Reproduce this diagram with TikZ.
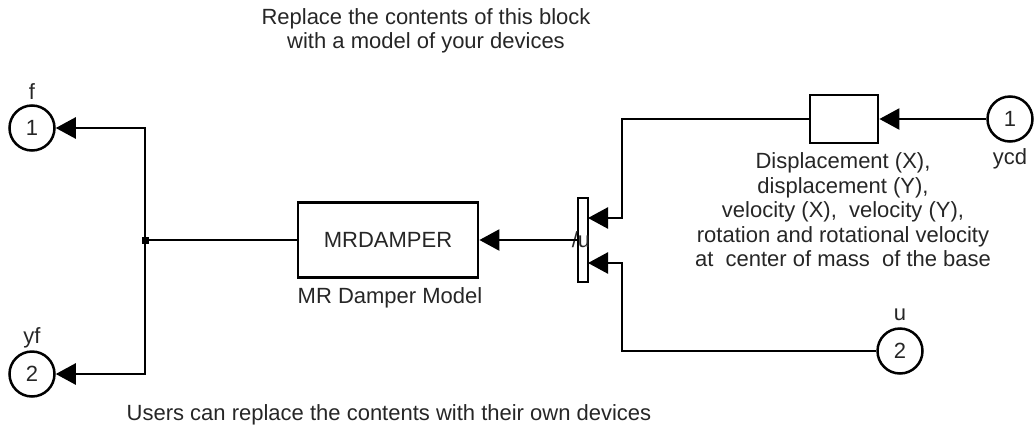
\documentclass[tikz,border=0pt]{standalone}
\usepackage{fontspec}
\setmainfont{Liberation Sans}
\usetikzlibrary{arrows.meta}
\begin{document}
\begin{tikzpicture}[x=1pt,y=-1pt,
  line width=2.5pt,
  every node/.style={font=\fontsize{22}{24.5}\selectfont, text=black!85},
  port/.style={draw, circle, minimum size=45pt, inner sep=0pt, line width=2.5pt},
  blk/.style={draw, rectangle, inner sep=0pt, line width=2.8pt},
  arr/.style={-{Triangle[length=20pt,width=21pt]}},
  lbl/.style={inner sep=0pt, align=center}]
\useasboundingbox (0,0) rectangle (1034,429);
% texts
\node[lbl] (top) at (426,31) {Replace the contents of this block\\with a model of your devices};
\node[lbl] (bot) at (389,415) {Users can replace the contents with their own devices};
% output ports
\node[port] (f) at (32,128) {1};
\node[lbl] (fl) at (32,92) {f};
\node[port] (yf) at (32,374) {2};
\node[lbl] (yfl) at (32,338) {yf};
% MR damper
\node[blk, minimum width=180pt, minimum height=75pt] (mr) at (388,240) {MRDAMPER};
\node[lbl] (mrl) at (390,298) {MR Damper Model};
% mux
\node[blk, minimum width=10pt, minimum height=84pt, line width=2.5pt] (mux) at (583,240) {};
\node[lbl] (muxl) at (581,240) {/u};
% selector block
\node[blk, minimum width=68pt, minimum height=48pt] (sel) at (844,119) {};
% input ports
\node[port] (ycd) at (1010,119) {1};
\node[lbl] (ycdl) at (1010,159) {ycd};
\node[port] (u) at (900,351) {2};
\node[lbl] (ul) at (900,315) {u};
% description
\node[lbl] (desc) at (843,210) {Displacement (X),\\displacement (Y),\\velocity (X),\ \ velocity (Y),\\rotation and rotational velocity\\at\ \ center of mass\ \ of the base};
% junction
\coordinate (j) at (145,240);
\coordinate (k1) at (622,119);
\coordinate (k2) at (622,351);
\coordinate (m1) at (588,218);
\coordinate (m2) at (588,263);
\fill (j) ++(-3.5,-3.5) rectangle ++(7,7);
% connectors
\draw (mr.west) -- (j);
\draw[arr] (j) |- (f.east);
\draw[arr] (j) |- (yf.east);
\draw[arr] (mux.west) -- (mr.east);
\draw[arr] (ycd.west) -- (sel.east);
\draw[arr] (sel.west) -- (k1) |- (m1);
\draw[arr] (u.west) -- (k2) |- (m2);
\end{tikzpicture}
\end{document}
